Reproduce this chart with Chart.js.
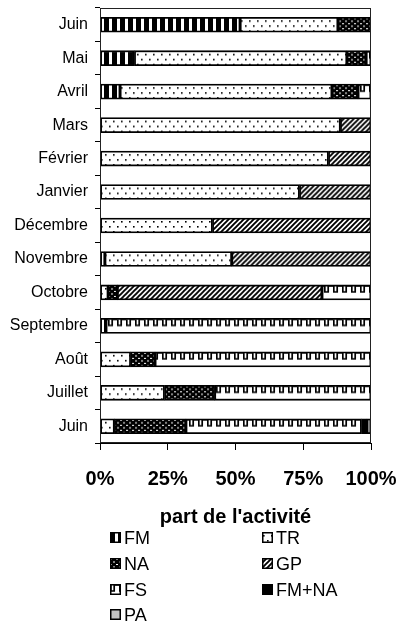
<!DOCTYPE html>
<html><head><meta charset="utf-8">
<script src="https://cdn.jsdelivr.net/npm/chart.js@4"></script>
<style>
html,body{margin:0;padding:0;background:#fff;}
#wrap{position:relative;width:399px;height:628px;overflow:hidden;}
#c{position:absolute;left:0;top:0;}
.lg{position:absolute;font:18px "Liberation Sans",Arial,sans-serif;color:#000;height:22px;line-height:22px;white-space:nowrap;}
.lg canvas{position:absolute;left:0;top:5px;}
.lg span{position:absolute;left:14px;top:0;}
</style></head><body>
<div id="wrap"><canvas id="c" width="399" height="530" style="width:399px;height:530px"></canvas><div id="legend"></div></div>
<script>
// ---- data (percent of activity, top to bottom) ----
const categories = ['Juin','Mai','Avril','Mars','Février','Janvier','Décembre','Novembre','Octobre','Septembre','Août','Juillet','Juin'];
const FM    = [51.7, 12.7, 7.4, 0, 0, 0, 0, 1.8, 0, 2.2, 0, 0, 0];
const TR    = [36.1, 78.4, 78.2, 88.7, 84.3, 73.6, 41.5, 46.8, 3.0, 0, 11.3, 23.8, 5.3];
const NA    = [12.2, 7.1, 9.6, 0, 0, 0, 0, 0, 3.4, 0, 9.0, 18.5, 26.4];
const GP    = [0, 0, 0, 11.3, 15.7, 26.4, 58.5, 51.4, 75.5, 0, 0, 0, 0];
const FS    = [0, 1.8, 4.8, 0, 0, 0, 0, 0, 18.1, 97.8, 79.7, 57.7, 64.8];
const FMNA  = [0, 0, 0, 0, 0, 0, 0, 0, 0, 0, 0, 0, 2.0];
const PA    = [0, 0, 0, 0, 0, 0, 0, 0, 0, 0, 0, 0, 1.5];
const seriesNames = ['FM','TR','NA','GP','FS','FM+NA','PA'];
const seriesValues = [FM, TR, NA, GP, FS, FMNA, PA];
const xTicks = [0, 25, 50, 75, 100];
const xTitle = "part de l'activité";

// ---- patterns ----
const BAR = 15;
function tile(w, h, draw){ const c=document.createElement('canvas'); c.width=w; c.height=h; const x=c.getContext('2d'); draw(x,w,h); return c; }
const tiles = {
  'FM': tile(8,4,(x)=>{x.fillStyle='#000';x.fillRect(0,0,8,4);x.fillStyle='#fff';x.fillRect(5,0,3,4);}),
  'TR': tile(8,10,(x)=>{x.fillStyle='#fff';x.fillRect(0,0,8,10);x.fillStyle='#000';x.fillRect(1,3,1.6,1.6);x.fillRect(5,8,1.6,1.6);}),
  'NA': tile(6,5,(x)=>{x.fillStyle='#000';x.fillRect(0,0,6,5);x.fillStyle='#fff';x.fillRect(0,1,2,1);x.fillRect(3,3.5,2,1);}),
  'GP': tile(5,5,(x)=>{x.fillStyle='#fff';x.fillRect(0,0,5,5);x.strokeStyle='#000';x.lineWidth=1.9;
        x.beginPath();x.moveTo(-1,6);x.lineTo(6,-1);x.moveTo(-1,1);x.lineTo(1,-1);x.moveTo(4,6);x.lineTo(6,4);x.stroke();}),
  'FS': tile(9,BAR,(x)=>{x.fillStyle='#fff';x.fillRect(0,0,9,BAR);x.strokeStyle='#000';x.lineWidth=1.7;
        x.beginPath();x.moveTo(0.8,1);x.lineTo(0.8,7);x.lineTo(4.2,7);x.lineTo(4.2,1);x.lineTo(9,1);x.stroke();}),
  'FM+NA': null,
  'PA': null
};
const solid = {'FM+NA':'#000','PA':'#c4c4c4'};
function fillFor(name){
  if (!tiles[name]) return solid[name];
  return (c) => {
    const chart = c.chart; const p = chart.ctx.createPattern(tiles[name], 'repeat');
    const ys = chart.scales && chart.scales.y;
    if (ys && c.dataIndex != null && p.setTransform) {
      const y = ys.getPixelForValue(c.dataIndex) - BAR/2;
      p.setTransform(new DOMMatrix([1,0,0,1,0,y]));
    }
    return p;
  };
}

const FONT = '"Liberation Sans", Arial, Helvetica, sans-serif';
const frame = { id:'frame', afterDraw(chart){ const {ctx, chartArea:a} = chart; ctx.save(); ctx.strokeStyle='#222'; ctx.lineWidth=1;
  ctx.strokeRect(Math.round(a.left)+0.5, Math.round(a.top)+0.5, Math.round(a.right-a.left)-1, Math.round(a.bottom-a.top)-1); ctx.restore(); } };

new Chart(document.getElementById('c'), {
  type: 'bar',
  data: {
    labels: categories,
    datasets: seriesNames.map((n,i)=>({
      label: n,
      data: seriesValues[i].map(v => v > 0 ? v : null),
      backgroundColor: fillFor(n),
      borderColor: '#000',
      borderWidth: 1.8,
      borderSkipped: false,
      barThickness: BAR
    }))
  },
  options: {
    indexAxis: 'y',
    responsive: false,
    animation: false,
    devicePixelRatio: 1,
    layout: { padding: { top: 8, right: 28, left: 0, bottom: 0 } },
    plugins: { legend: { display: false }, tooltip: { enabled: false } },
    scales: {
      x: {
        stacked: true, min: 0, max: 100, position: 'bottom',
        afterBuildTicks: s => { s.ticks = xTicks.map(v => ({ value: v })); },
        ticks: { callback: v => v + '%', font: { family: FONT, size: 20, weight: 'bold' }, color: '#000', padding: 17, maxRotation: 0, autoSkip: false },
        grid: { drawOnChartArea: false, tickLength: 7, color: '#000', lineWidth: 1 },
        border: { color: '#000', width: 1 },
        title: { display: true, text: xTitle, color: '#000', font: { family: FONT, size: 20, weight: 'bold' }, padding: { top: 0, bottom: 1 } },
        afterFit: s => { s.height = 87; s.paddingLeft = 0; s.paddingRight = 0; }
      },
      y: {
        stacked: true,
        ticks: { font: { family: FONT, size: 16 }, color: '#000', padding: 7, autoSkip: false },
        grid: { drawOnChartArea: false, tickLength: 5, color: '#000', offset: true },
        border: { color: '#000', width: 1 },
        afterFit: s => { s.width = 100; s.paddingTop = 0; s.paddingBottom = 0; }
      }
    }
  },
  plugins: [frame]
});

// ---- legend (2 columns) ----
const rowCenters = [538, 563.5, 589.5, 615];
const colLeft = [110, 262];
const lg = document.getElementById('legend');
seriesNames.forEach((n,i)=>{
  const d = document.createElement('div'); d.className='lg';
  d.style.left = colLeft[i%2]+'px'; d.style.top = (rowCenters[Math.floor(i/2)]-11)+'px';
  const cv = document.createElement('canvas'); cv.width=11; cv.height=11; const x=cv.getContext('2d');
  x.fillStyle = tiles[n] ? x.createPattern(tiles[n],'repeat') : solid[n]; x.fillRect(0,0,11,11);
  x.strokeStyle='#000'; x.lineWidth=1.5; x.strokeRect(0.75,0.75,9.5,9.5);
  const s = document.createElement('span'); s.textContent = n;
  d.appendChild(cv); d.appendChild(s); lg.appendChild(d);
});
</script>
</body></html>
